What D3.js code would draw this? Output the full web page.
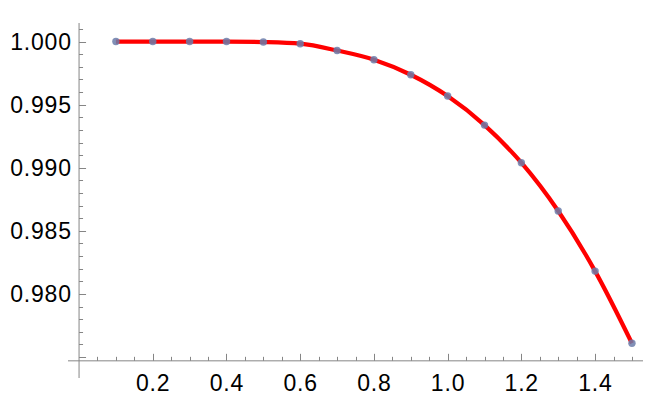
<!DOCTYPE html>
<html><head><meta charset="utf-8">
<script src="https://cdn.jsdelivr.net/npm/d3@7"></script>
<style>html,body{margin:0;padding:0;background:#fff;}svg{display:block;}</style>
</head><body>
<svg id="c" width="655" height="398"></svg>
<script>
const xs = [0.1,0.2,0.3,0.4,0.5,0.6,0.7,0.8,0.9,1.0,1.1,1.2,1.3,1.4,1.5];
const ys = [1.0000,1.0000,1.0000,1.0000,0.99996,0.99983,0.99929,0.99856,0.99737,0.99568,0.99338,0.99040,0.98657,0.98181,0.97609];
const xTickLabels = ["0.2","0.4","0.6","0.8","1.0","1.2","1.4"];
const yTickLabels = ["0.980","0.985","0.990","0.995","1.000"];

const svg = d3.select("#c");
const x = d3.scaleLinear().domain([-0.03, 1.53]).range([68, 643]);
const y = d3.scaleLinear().domain([0.97334, 1.00147]).range([378, 23]);
const axisColor = "#858585";
const xAxisY = y(0.9747);
const yAxisX = x(0);
const font = "Liberation Sans, Arial, sans-serif";

svg.append("line").attr("x1", x.range()[0]).attr("x2", x.range()[1])
  .attr("y1", xAxisY).attr("y2", xAxisY).attr("stroke", axisColor).attr("stroke-width", 1);
svg.append("line").attr("x1", yAxisX).attr("x2", yAxisX)
  .attr("y1", y.range()[0]).attr("y2", y.range()[1]).attr("stroke", axisColor).attr("stroke-width", 1);

const xMinor = d3.range(1, 31).map(i => i * 0.05);
xMinor.forEach((v, i) => {
  const major = (i + 1) % 4 === 0;
  const px = Math.round(x(v)) + 0.5;
  svg.append("line").attr("x1", px).attr("x2", px)
    .attr("y1", xAxisY).attr("y2", xAxisY - (major ? 7 : 4))
    .attr("stroke", axisColor).attr("stroke-width", 1);
});
xTickLabels.forEach(t => {
  svg.append("text").attr("x", x(+t) + 0.4).attr("y", 390.5)
    .attr("text-anchor", "middle").attr("font-family", font)
    .attr("font-size", 23).attr("letter-spacing", 0.8).attr("fill", "#000").text(t);
});

const yMinor = d3.range(975, 1002).map(i => i / 1000);
yMinor.forEach(v => {
  const major = Math.round(v * 1000) % 5 === 0;
  const py = Math.round(y(v)) + 0.5;
  svg.append("line").attr("x1", yAxisX).attr("x2", yAxisX + (major ? 7 : 4))
    .attr("y1", py).attr("y2", py).attr("stroke", axisColor).attr("stroke-width", 1);
});
yTickLabels.forEach(t => {
  svg.append("text").attr("x", 71.8).attr("y", y(+t)).attr("dy", "0.36em")
    .attr("text-anchor", "end").attr("font-family", font)
    .attr("font-size", 23).attr("letter-spacing", 0.8).attr("fill", "#000").text(t);
});

const data = xs.map((v, i) => ({x: v, y: ys[i]}));
const line = d3.line().x(d => x(d.x)).y(d => y(d.y)).curve(d3.curveMonotoneX);
svg.append("path").datum(data).attr("d", line).attr("fill", "none")
  .attr("stroke", "#ff0000").attr("stroke-width", 4.2).attr("stroke-linecap", "butt");

svg.selectAll("circle.pt").data(data).enter().append("circle")
  .attr("cx", d => x(d.x)).attr("cy", d => y(d.y)).attr("r", 3.7)
  .attr("fill", "#6b7daa").attr("fill-opacity", 0.85);
</script>
</body></html>
